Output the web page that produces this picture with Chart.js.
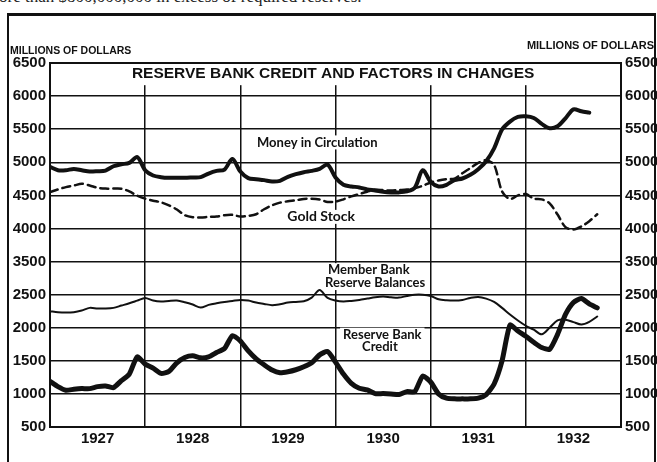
<!DOCTYPE html>
<html>
<head>
<meta charset="utf-8">
<title>Reserve Bank Credit and Factors in Changes</title>
<script src="https://cdn.jsdelivr.net/npm/chart.js@4.4.0/dist/chart.umd.min.js"></script>
<style>
  html, body { margin: 0; padding: 0; background: #fff; }
  #wrap { position: relative; width: 657px; height: 462px; overflow: hidden; background: #fff; }
  #pagetext { position: absolute; left: -1px; top: -13px; font: 17px "Liberation Serif", serif; color: #222; white-space: nowrap; }
  #frame { position: absolute; left: 7px; top: 13px; width: 645px; height: 480px; border: 2px solid #111; border-top-width: 3px; }
  #reserveChart { position: absolute; left: 0; top: 0; }
</style>
</head>
<body>
<div id="wrap">
  <div id="pagetext">ore than $800,000,000 in excess of required reserves.</div>
  <div id="frame"></div>
  <canvas id="reserveChart" width="657" height="462"></canvas>
</div>
<script>
// monthly values, Jan 1927 onwards (millions of dollars)
const years = ['1927', '1928', '1929', '1930', '1931', '1932'];

const moneyInCirculation = [
  4930, 4880, 4880, 4900, 4880, 4860, 4865, 4875, 4940, 4970, 4990, 5080,
  4880, 4800, 4775, 4765, 4765, 4765, 4770, 4775, 4830, 4870, 4890, 5050,
  4860, 4760, 4745, 4730, 4710, 4720, 4780, 4820, 4850, 4870, 4900, 4965,
  4770, 4660, 4635, 4620, 4590, 4575, 4555, 4545, 4545, 4560, 4615, 4880,
  4705, 4635, 4660, 4730, 4755, 4810, 4895, 5015, 5210, 5495, 5615, 5685,
  5695, 5670, 5580, 5515, 5545, 5665, 5800, 5770, 5750
];

const goldStock = [
  4550, 4590, 4625, 4648, 4675, 4650, 4615, 4602, 4602, 4600, 4560, 4495,
  4450, 4420, 4395, 4350, 4286, 4200, 4170, 4166, 4175, 4180, 4200, 4205,
  4180, 4190, 4215, 4290, 4350, 4390, 4410, 4425, 4445, 4450, 4437, 4400,
  4405, 4440, 4485, 4520, 4555, 4585, 4580, 4572, 4580, 4587, 4610, 4645,
  4695, 4725, 4745, 4753, 4835, 4912, 4990, 5030, 4960, 4560, 4445, 4500,
  4520, 4450, 4440, 4380, 4210, 4020, 3985, 4030, 4110, 4215
];

const memberReserves = [
  2250, 2235, 2230, 2235, 2260, 2300, 2290, 2290, 2300, 2335, 2370, 2410,
  2450, 2410, 2395, 2405, 2410, 2385, 2350, 2305, 2345, 2370, 2390, 2405,
  2420, 2410, 2380, 2360, 2340, 2355, 2380, 2390, 2400, 2455, 2570, 2450,
  2410, 2395, 2405, 2420, 2440, 2460, 2470, 2460, 2455, 2480, 2500, 2500,
  2480, 2430, 2415, 2410, 2420, 2450, 2465, 2440, 2390, 2300, 2200, 2110,
  2030, 1970, 1900, 2000, 2110, 2120, 2085, 2050, 2090, 2170
];

const reserveBankCredit = [
  1190, 1110, 1055, 1070, 1080, 1080, 1110, 1120, 1095, 1200, 1300, 1560,
  1450, 1390, 1310, 1340, 1470, 1550, 1575, 1545, 1560, 1625, 1685, 1880,
  1800, 1650, 1530, 1440, 1360, 1320, 1335, 1365, 1410, 1470, 1590, 1640,
  1480, 1300, 1160, 1085, 1060, 1005, 1005, 1000, 990, 1035, 1035, 1270,
  1180, 1000, 935, 925, 925, 925, 935, 990, 1150, 1500, 2040, 1950,
  1870, 1780, 1700, 1675, 1900, 2200, 2380, 2440, 2360, 2300
];

// the lower panel skips 3000-3500, so its values are drawn 500 higher
const panelShift = 500;

// text inside the plot, placed in month / value units
const notes = [
  { text: 'Money in Circulation', month: 33.7, value: 5300, font: 'bold 13px Lato' },
  { text: 'Gold Stock', month: 34.2, value: 4175, font: 'bold 14px Lato' },
  { text: 'Member Bank', month: 40.2, value: 3370, font: 'bold 13px Lato' },
  { text: 'Reserve Balances', month: 41.0, value: 3175, font: 'bold 13px Lato' },
  { text: 'Reserve Bank', month: 41.9, value: 2395, font: 'bold 13px Lato' },
  { text: 'Credit', month: 41.6, value: 2215, font: 'bold 13px Lato' }
];

const toPoints = (arr, shift) => arr.map((v, i) => ({ x: i, y: v + shift }));

const ink = '#111';
const tickFont = { family: 'Liberation Sans', size: 15, weight: 'bold' };

const textPlugin = {
  id: 'texts',
  beforeDatasetsDraw(chart) {
    const c = chart.ctx;
    const area = chart.chartArea;
    const xs = chart.scales.x, ys = chart.scales.y;
    c.save();
    c.fillStyle = '#fff';
    // title band hides the year lines
    c.fillRect(area.left + 1, area.top + 1, area.right - area.left - 2, ys.getPixelForValue(6180) - area.top);
    notes.forEach(n => {
      c.font = n.font;
      const w = c.measureText(n.text).width;
      c.fillRect(xs.getPixelForValue(n.month) - w / 2 - 3, ys.getPixelForValue(n.value) - 7, w + 6, 14);
    });
    c.restore();
  },
  afterDatasetsDraw(chart) {
    const c = chart.ctx;
    const xs = chart.scales.x, ys = chart.scales.y;
    c.save();
    c.fillStyle = ink;
    c.textAlign = 'center';
    c.textBaseline = 'middle';
    notes.forEach(n => {
      c.font = n.font;
      c.fillText(n.text, xs.getPixelForValue(n.month), ys.getPixelForValue(n.value));
    });
    c.font = 'bold 15.5px "Liberation Sans"';
    c.fillText('RESERVE BANK CREDIT AND FACTORS IN CHANGES', xs.getPixelForValue(35.7), ys.getPixelForValue(6345));
    // unit labels above the axes
    c.font = 'bold 10.5px "Liberation Sans"';
    c.textAlign = 'left';
    c.fillText('MILLIONS OF DOLLARS', 10, 51);
    c.font = 'bold 11px "Liberation Sans"';
    c.textAlign = 'right';
    c.fillText('MILLIONS OF DOLLARS', 654, 46);
    c.restore();
  }
};

const yTicks = {
  stepSize: 500,
  color: ink,
  font: tickFont,
  padding: 4,
  callback: v => (v >= 3500 ? v : v - panelShift)
};

const config = {
  type: 'line',
  data: {
    datasets: [
      {
        label: 'Money in Circulation',
        data: toPoints(moneyInCirculation, 0),
        borderColor: ink,
        borderWidth: 4,
        tension: 0.3
      }, {
        label: 'Gold Stock',
        data: toPoints(goldStock, 0),
        borderColor: ink,
        borderWidth: 2.5,
        borderDash: [8, 5],
        tension: 0.3
      }, {
        label: 'Member Bank Reserve Balances',
        data: toPoints(memberReserves, panelShift),
        borderColor: ink,
        borderWidth: 2,
        tension: 0.3
      }, {
        label: 'Reserve Bank Credit',
        data: toPoints(reserveBankCredit, panelShift),
        borderColor: ink,
        borderWidth: 5,
        tension: 0.2
      }
    ]
  },
  options: {
    responsive: false,
    animation: false,
    events: [],
    layout: { padding: { top: 63 } },
    elements: {
      point: { radius: 0 },
      line: { borderJoinStyle: 'round', borderCapStyle: 'round', fill: false }
    },
    plugins: {
      legend: { display: false },
      tooltip: { enabled: false }
    },
    scales: {
      x: {
        type: 'linear',
        min: 0,
        max: 72,
        afterBuildTicks: axis => {
          axis.ticks = [];
          for (let m = 0; m <= 72; m += 6) axis.ticks.push({ value: m });
        },
        afterFit: scale => { scale.height = 35; },
        ticks: {
          autoSkip: false,
          maxRotation: 0,
          color: ink,
          font: tickFont,
          padding: 3,
          callback: v => (v % 12 === 6 ? years[(v - 6) / 12] : '')
        },
        grid: {
          drawTicks: false,
          lineWidth: 1.5,
          color: c => (c.tick && c.tick.value % 12 === 0 ? ink : 'rgba(0,0,0,0)')
        },
        border: { display: true, color: ink, width: 2 }
      },
      y: {
        position: 'left',
        min: 1000,
        max: 6500,
        afterFit: scale => { scale.width = 50; },
        ticks: yTicks,
        grid: {
          drawTicks: false,
          color: ink,
          lineWidth: c => (c.tick && c.tick.value === 6500 ? 2.5 : 1.5)
        },
        border: { display: true, color: ink, width: 2 }
      },
      y2: {
        position: 'right',
        min: 1000,
        max: 6500,
        afterFit: scale => { scale.width = 36; },
        ticks: yTicks,
        grid: { display: false, drawTicks: false },
        border: { display: true, color: ink, width: 2 }
      }
    }
  },
  plugins: [textPlugin]
};

const chart = new Chart(document.querySelector('#reserveChart'), config);
</script>
</body>
</html>
